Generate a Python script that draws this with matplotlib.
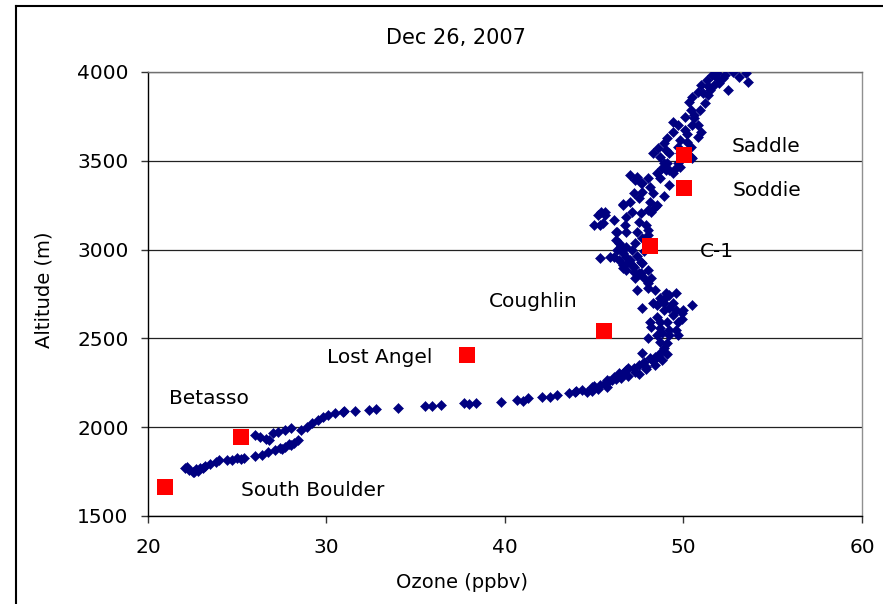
import matplotlib
matplotlib.use("Agg")
import matplotlib.pyplot as plt
from matplotlib.lines import Line2D

# ozone profile along the drive (ppbv, m)
ozone = [
    22.1, 22.2, 22.3, 22.5, 22.6, 22.7, 22.8, 22.9, 23.1, 23.2, 23.5, 23.8,
    24.0, 24.4, 24.7, 25.0, 25.2, 25.4, 26.0, 26.4, 26.7, 27.1, 27.4, 27.5,
    27.7, 27.9, 28.0, 28.2, 28.4,
    26.0, 26.3, 26.6, 26.8, 27.0, 27.3, 27.7, 28.0, 28.6, 28.9, 29.2, 29.5,
    29.8, 30.1, 30.5, 30.9, 31.0, 31.6, 32.4, 32.8, 34.0, 35.5, 35.9, 36.4,
    37.7, 38.0, 38.4, 39.8, 40.7, 41.0, 41.3, 42.1, 42.5, 42.9, 43.6, 43.9,
    44.6, 44.9, 45.2, 45.7, 46.0, 46.3, 46.6, 46.9,
    44.3, 44.9, 45.3, 45.6, 45.7, 46.1, 46.2, 46.4, 46.8, 46.9, 47.2, 47.5,
    47.5, 47.8, 47.9, 48.1, 48.4, 48.4, 48.7, 48.8, 49.1, 47.7, 48.9, 49.1,
    48.7, 48.0, 48.5, 48.8, 49.2, 49.7, 49.6, 49.2, 48.7, 48.2, 48.1, 48.7,
    49.1, 49.7, 49.9, 50.5, 50.0, 49.6, 49.2, 48.9, 48.5, 49.4, 48.9, 48.5,
    47.7, 48.7, 49.2, 49.6, 49.0, 48.4, 48.0, 47.4, 48.0, 48.2, 47.8, 47.6,
    47.2, 46.8, 47.1, 47.7, 46.6, 46.4, 46.8, 46.1, 45.3,
    45.9, 46.3, 46.6, 47.0, 47.2, 47.6, 48.0, 47.5, 46.6, 47.1, 47.4, 47.8,
    46.2, 46.4, 46.8, 47.3, 47.7, 47.4, 46.8, 46.2, 46.7, 47.5, 48.0, 48.0,
    46.8, 47.1, 47.6, 48.0, 48.2, 46.6, 47.0, 47.5, 47.2, 47.7, 48.1, 47.6,
    48.0, 48.5, 48.8, 49.1, 47.0, 47.4, 48.3, 45.3, 45.6, 46.1, 45.0, 45.6,
    46.3, 49.2, 49.4, 49.6, 48.1, 48.5, 49.0, 45.2, 45.4, 45.5, 48.7, 48.9,
    48.7, 49.2, 49.8, 50.5, 47.3, 47.7, 46.6, 49.8, 49.2, 50.4,
    48.3, 48.6, 48.9, 49.1, 49.4, 49.4, 49.7, 50.1, 50.4, 50.3, 50.5, 50.8,
    51.0, 51.3, 51.6, 51.9, 52.2, 52.0, 51.7, 51.5, 52.5, 52.8, 53.1, 53.5,
    53.6, 51.0, 50.8, 50.6, 50.9, 51.2, 51.4, 50.4, 49.9, 50.8, 51.1, 51.9,
    49.8, 50.1, 50.5, 49.7, 50.2,
    44.0, 45.0, 45.8, 46.5, 47.3, 47.9, 48.3, 48.6, 49.4, 49.9, 48.3, 49.0,
    47.3, 46.9, 46.5, 47.9, 48.4, 48.9, 49.7, 50.2, 50.6, 51.4, 52.3, 49.0,
]
altitude = [
    1770, 1775, 1760, 1750, 1745, 1765, 1752, 1768, 1770, 1780, 1792, 1804,
    1815, 1818, 1815, 1826, 1822, 1826, 1838, 1843, 1860, 1871, 1883, 1877,
    1888, 1905, 1900, 1911, 1928,
    1956, 1945, 1933, 1928, 1967, 1973, 1984, 1995, 1984, 2001, 2024, 2040,
    2057, 2069, 2080, 2085, 2091, 2091, 2097, 2102, 2108, 2119, 2122, 2125,
    2136, 2132, 2136, 2142, 2153, 2150, 2164, 2170, 2172, 2181, 2195, 2198,
    2198, 2205, 2215, 2226, 2266, 2283, 2305, 2333,
    2210, 2226, 2238, 2250, 2266, 2283, 2270, 2305, 2322, 2290, 2333, 2350,
    2300, 2367, 2330, 2390, 2395, 2350, 2418, 2380, 2410, 2418, 2446, 2474,
    2480, 2502, 2519, 2530, 2519, 2519, 2547, 2547, 2558, 2564, 2592, 2592,
    2592, 2592, 2643, 2688, 2660, 2660, 2671, 2660, 2620, 2699, 2699, 2688,
    2671, 2727, 2744, 2756, 2756, 2772, 2784, 2772, 2812, 2840, 2840, 2868,
    2874, 2885, 2913, 2924, 2913, 2941, 2958, 2958, 2953,
    2958, 2998, 2981, 2941, 2902, 2930, 2885, 2868, 2896, 3000, 2965, 2990,
    3054, 3037, 3015, 3037, 3065, 3099, 3099, 3099, 3138, 3155, 3110, 3082,
    3184, 3212, 3206, 3223, 3212, 3251, 3268, 3291, 3319, 3324, 3352, 3375,
    3403, 3431, 3459, 3488, 3420, 3409, 3319, 3138, 3195, 3167, 3138, 3212,
    3099, 3364, 3431, 3459, 3268, 3251, 3448, 3195, 3212, 3150, 3403, 3488,
    3521, 3544, 3544, 3516, 3392, 3375, 3257, 3466, 3448, 3521,
    3544, 3572, 3600, 3628, 3662, 3718, 3702, 3747, 3786, 3831, 3859, 3887,
    3927, 3955, 3983, 3994, 3966, 3938, 3927, 3899, 3899, 4000, 3972, 3994,
    3944, 3662, 3702, 3741, 3786, 3825, 3870, 3578, 3544, 3634, 3882, 3966,
    3617, 3673, 3702, 3578, 3606,
    2205, 2232, 2258, 2275, 2312, 2340, 2372, 2400, 2630, 2610, 2700, 2735,
    2840, 2930, 3020, 3140, 3240, 3300, 3490, 3650, 3760, 3920, 3985, 3560,
]

# monitoring sites
sites = ["South Boulder", "Betasso", "Lost Angel", "Coughlin", "C-1", "Soddie", "Saddle"]
site_ozone = [20.95, 25.2, 37.87, 45.55, 48.12, 50.03, 50.03]
site_altitude = [1663, 1945, 2407, 2542, 3020, 3347, 3533]

# where each site name is written
label_pos = {
    "South Boulder": (29.2, 1646),
    "Betasso": (23.4, 2164),
    "Lost Angel": (33.0, 2390),
    "Coughlin": (41.6, 2705),
    "C-1": (51.9, 2992),
    "Soddie": (54.7, 3330),
    "Saddle": (54.6, 3583),
}

fig = plt.figure(figsize=(8.83, 6.04), dpi=100)
ax = fig.add_axes([0.1676, 0.1457, 0.8086, 0.7351])

ax.plot(ozone, altitude, linestyle="none", marker="D", markersize=5.4,
        markeredgewidth=0.4, markeredgecolor="#000080", color="#000080", zorder=3)
ax.plot(site_ozone, site_altitude, linestyle="none", marker="s", markersize=12.2,
        markeredgewidth=0, color="#ff0000", zorder=4)

for name in sites:
    x, y = label_pos[name]
    ax.text(x, y, name, fontsize=14.5, ha="center", va="center", zorder=5)

ax.set_xlim(20, 60)
ax.set_ylim(1500, 4000)
ax.set_xticks([20, 30, 40, 50, 60])
ax.set_yticks([1500, 2000, 2500, 3000, 3500, 4000])
ax.tick_params(axis="both", direction="out", length=5, width=1, color="#333333",
               labelsize=14.5)
ax.tick_params(axis="x", pad=11)
ax.tick_params(axis="y", pad=9)

ax.yaxis.grid(True, color="#222222", linewidth=0.9)
ax.set_axisbelow(True)

ax.spines["left"].set_color("black")
ax.spines["bottom"].set_color("black")
ax.spines["right"].set_color("#909090")
ax.spines["top"].set_color("#707070")
for s in ax.spines.values():
    s.set_linewidth(1.0)

ax.set_xlabel("Ozone (ppbv)", fontsize=14, va="center")
ax.xaxis.set_label_coords(0.44, -0.149)
ax.set_ylabel("Altitude (m)", fontsize=14, va="center")
ax.yaxis.set_label_coords(-0.146, 0.509)
ax.text(0.431, 1.0766, "Dec 26, 2007", fontsize=15, ha="center", va="center",
        transform=ax.transAxes)

# chart frame
fig.add_artist(Line2D([0.0181, 0.0181], [0.0, 0.9901], color="black", linewidth=1.5,
                      transform=fig.transFigure))
fig.add_artist(Line2D([0.0181, 1.0], [0.9901, 0.9901], color="black", linewidth=1.5,
                      transform=fig.transFigure))

fig.savefig("out.png", dpi=100)
